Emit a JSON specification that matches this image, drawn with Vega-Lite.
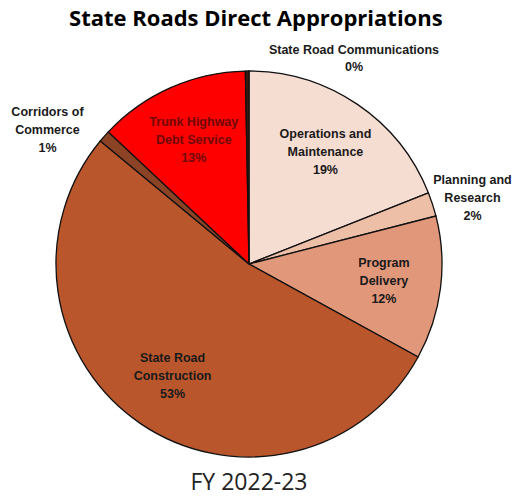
{
  "$schema": "https://vega.github.io/schema/vega-lite/v6.json",
  "padding": {"left": 11, "top": 8, "right": 0, "bottom": 0},
  "background": "white",
  "title": {"text": "State Roads Direct Appropriations", "font": "Open Sans", "fontSize": 22, "fontWeight": "bold", "color": "#000000", "anchor": "middle", "offset": -19, "dx": -34},
  "data": {"values": [
    {"cat": "Operations and Maintenance", "pct": 19, "ord": 1, "label": "Operations and\nMaintenance\n19%"},
    {"cat": "Planning and Research", "pct": 2, "ord": 2, "label": "Planning and\nResearch\n2%"},
    {"cat": "Program Delivery", "pct": 12, "ord": 3, "label": "Program\nDelivery\n12%"},
    {"cat": "State Road Construction", "pct": 53, "ord": 4, "label": "State Road\nConstruction\n53%"},
    {"cat": "Corridors of Commerce", "pct": 1, "ord": 5, "label": "Corridors of\nCommerce\n1%"},
    {"cat": "Trunk Highway Debt Service", "pct": 12.7, "ord": 6, "label": "Trunk Highway\nDebt Service\n13%"},
    {"cat": "State Road Communications", "pct": 0.3, "ord": 7, "label": "State Road Communications\n0%"}
  ]},
  "vconcat": [
    {
      "width": 400,
      "height": 400,
      "title": {"text": "FY 2022-23", "orient": "bottom", "font": "Open Sans", "fontSize": 23, "fontWeight": "normal", "color": "#222222", "anchor": "middle", "offset": 8},
      "encoding": {
        "theta": {"field": "pct", "type": "quantitative", "stack": true},
        "order": {"field": "ord", "type": "quantitative"}
      },
      "layer": [
        {
          "mark": {"type": "arc", "outerRadius": 193, "stroke": "#111111", "strokeWidth": 1.3},
          "encoding": {
            "color": {"field": "cat", "type": "nominal", "legend": null,
              "scale": {"domain": ["Operations and Maintenance", "Planning and Research", "Program Delivery", "State Road Construction", "Corridors of Commerce", "Trunk Highway Debt Service", "State Road Communications"],
                        "range": ["#F6DDD2", "#EEBFA7", "#E0977A", "#B9562C", "#8C4225", "#FF0000", "#3A1A10"]}}
          }
        },
        {
          "mark": {"type": "text", "radius": 136, "dy": -18, "font": "Liberation Sans", "fontSize": 12.5, "fontWeight": "bold", "lineBreak": "\n", "lineHeight": 18, "align": "center", "baseline": "middle"},
          "encoding": {
            "text": {"condition": {"test": "indexof(['Operations and Maintenance','Program Delivery','State Road Construction','Trunk Highway Debt Service'], datum.cat) >= 0", "field": "label"}, "value": ""},
            "color": {"condition": {"test": "datum.cat == 'Trunk Highway Debt Service'", "value": "#6E0A0A"}, "value": "#1A1A1A"}
          }
        },
        {
          "mark": {"type": "text", "radius": 235, "dy": -11, "font": "Liberation Sans", "fontSize": 12.5, "fontWeight": "bold", "lineBreak": "\n", "lineHeight": 18, "align": "center", "baseline": "middle", "color": "#1A1A1A"},
          "encoding": {
            "text": {"condition": {"test": "datum.cat == 'Planning and Research'", "field": "label"}, "value": ""}
          }
        },
        {
          "mark": {"type": "text", "radius": 214, "dx": 107, "font": "Liberation Sans", "fontSize": 12.5, "fontWeight": "bold", "lineBreak": "\n", "lineHeight": 17, "align": "center", "baseline": "middle", "color": "#1A1A1A"},
          "encoding": {
            "text": {"condition": {"test": "datum.cat == 'State Road Communications'", "field": "label"}, "value": ""}
          }
        },
        {
          "mark": {"type": "text", "radius": 230, "dx": -29, "font": "Liberation Sans", "fontSize": 12.5, "fontWeight": "bold", "lineBreak": "\n", "lineHeight": 18, "align": "center", "baseline": "middle", "color": "#1A1A1A"},
          "encoding": {
            "text": {"condition": {"test": "datum.cat == 'Corridors of Commerce'", "field": "label"}, "value": ""}
          }
        }
      ]
    }
  ]
}
